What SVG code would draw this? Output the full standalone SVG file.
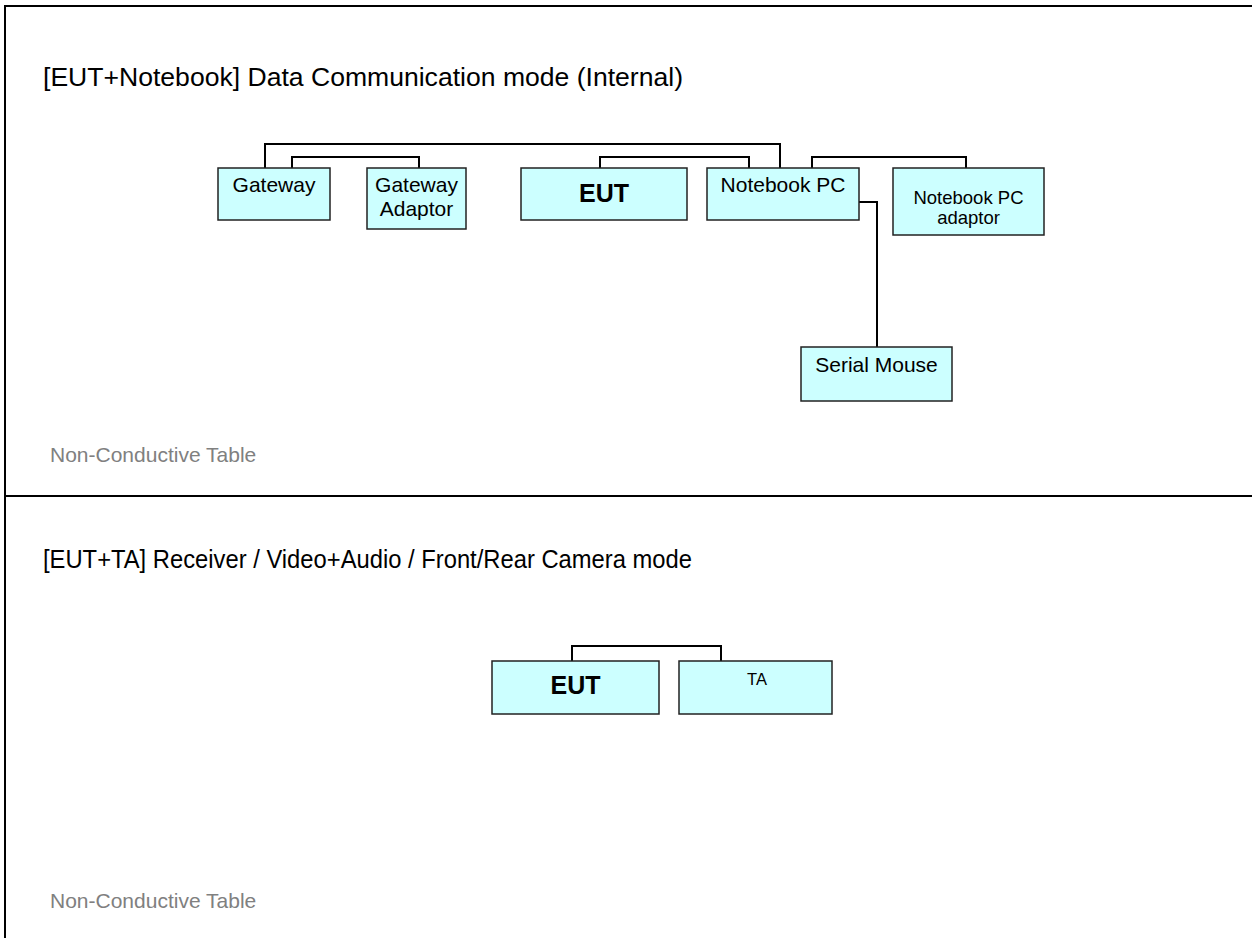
<svg xmlns="http://www.w3.org/2000/svg" width="1252" height="938" viewBox="0 0 1252 938">
<style>
.frame{stroke:#000;stroke-width:2;fill:none}
.box{fill:#ccffff;stroke:#222;stroke-width:1.5}
.wire{stroke:#000;stroke-width:2;fill:none}
.t{font-family:"Liberation Sans",Arial,sans-serif;fill:#000}
.lbl{font-size:21px;text-anchor:middle}
.bold{font-weight:bold;font-size:25px;text-anchor:middle}
.title{font-size:25px}
.table{font-size:21px;fill:#808080}
</style>
<rect width="1252" height="938" fill="#fff"/>
<g id="frame">
<path class="frame" d="M5,938 V6 H1252 M5,496 H1252"/>
</g>
<text class="t title" x="43" y="86" textLength="640" lengthAdjust="spacingAndGlyphs">[EUT+Notebook] Data Communication mode (Internal)</text>
<text class="t table" x="50" y="462">Non-Conductive Table</text>
<text class="t title" x="43" y="568" textLength="649" lengthAdjust="spacingAndGlyphs">[EUT+TA] Receiver / Video+Audio / Front/Rear Camera mode</text>
<text class="t table" x="50" y="908">Non-Conductive Table</text>
<g id="connectors">
<path class="wire" d="M265,168 V144 H780 V168"/>
<path class="wire" d="M292,168 V157 H419 V168"/>
<path class="wire" d="M600,168 V157 H749 V168"/>
<path class="wire" d="M812,168 V157 H966 V168"/>
<path class="wire" d="M859,202 H877 V347"/>
<path class="wire" d="M572,661 V646 H721 V661"/>
</g>
<g id="gateway">
<rect class="box" x="218" y="168" width="112" height="52"/>
<text class="t lbl" x="274" y="192">Gateway</text>
</g>
<g id="gateway-adaptor">
<rect class="box" x="367" y="168" width="99" height="61"/>
<text class="t lbl" x="416.5" y="192">Gateway</text>
<text class="t lbl" x="416.5" y="216">Adaptor</text>
</g>
<g id="eut1">
<rect class="box" x="521" y="168" width="166" height="52"/>
<text class="t bold" x="604" y="202">EUT</text>
</g>
<g id="notebook-pc">
<rect class="box" x="707" y="168" width="152" height="52"/>
<text class="t lbl" x="783" y="192">Notebook PC</text>
</g>
<g id="notebook-adaptor">
<rect class="box" x="893" y="168" width="151" height="67"/>
<text class="t lbl" x="968.5" y="204" style="font-size:18.5px">Notebook PC</text>
<text class="t lbl" x="968.5" y="224" style="font-size:18.5px">adaptor</text>
</g>
<g id="serial-mouse">
<rect class="box" x="801" y="347" width="151" height="54"/>
<text class="t lbl" x="876.5" y="372">Serial Mouse</text>
</g>
<g id="eut2">
<rect class="box" x="492" y="661" width="167" height="53"/>
<text class="t bold" x="575.5" y="694">EUT</text>
</g>
<g id="ta">
<rect class="box" x="679" y="661" width="153" height="53"/>
<text class="t lbl" x="757" y="685" style="font-size:16.5px">TA</text>
</g>
</svg>
